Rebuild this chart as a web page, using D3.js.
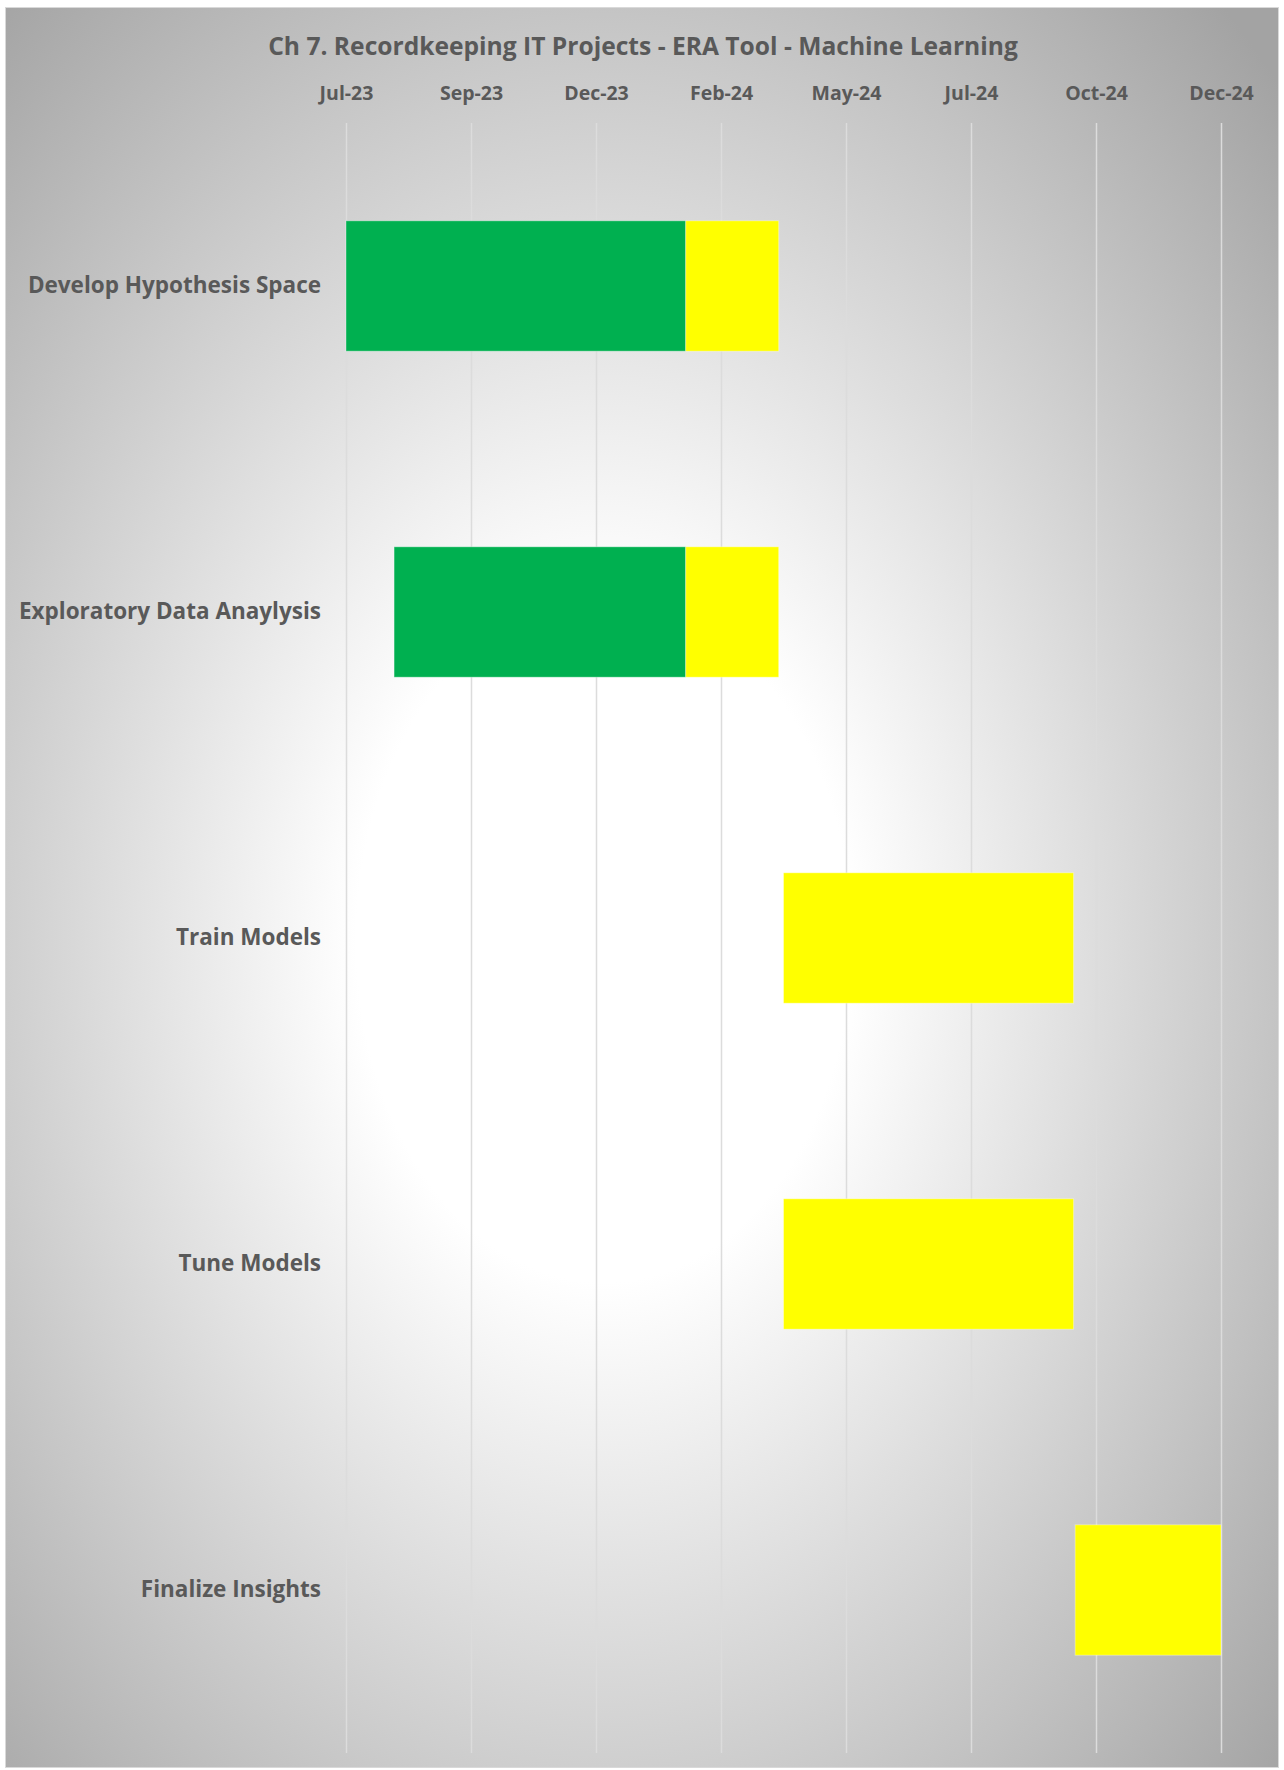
<!DOCTYPE html>
<html><head><meta charset="utf-8">
<script src="https://cdn.jsdelivr.net/npm/d3@7"></script>
<style>
html,body{margin:0;padding:0;background:#fff;}
svg{display:block;}
text{font-family:"Open Sans","Noto Sans",sans-serif;font-weight:700;fill:#595959;}
</style></head>
<body>
<svg id="chart" width="1284" height="1770"></svg>
<script>
const title = "Ch 7. Recordkeeping IT Projects - ERA Tool - Machine Learning";
const categories = ["Develop Hypothesis Space","Exploratory Data Anaylysis","Train Models","Tune Models","Finalize Insights"];
const startDates = ["2023-07-01","2023-07-31","2024-03-30","2024-03-30","2024-09-28"];
const completeDates = ["2024-01-29","2024-01-29","2024-03-30","2024-03-30","2024-09-28"];
const endDates = ["2024-03-27","2024-03-27","2024-09-27","2024-09-27","2024-12-28"];
const tickDates = ["2023-07-01","2023-09-17","2023-12-04","2024-02-20","2024-05-08","2024-07-25","2024-10-11","2024-12-28"];
const tickLabels = ["Jul-23","Sep-23","Dec-23","Feb-24","May-24","Jul-24","Oct-24","Dec-24"];
const colors = {complete:"#00b050", remaining:"#ffff00"};

const parse = d3.utcParse("%Y-%m-%d");
const data = categories.map((c,i)=>({task:c, start:parse(startDates[i]), done:parse(completeDates[i]), end:parse(endDates[i])}));
const ticks = tickDates.map(parse);

const svg = d3.select("#chart");
const defs = svg.append("defs");
const grad = defs.append("radialGradient").attr("id","bg")
  .attr("cx",0.47).attr("cy",0.53).attr("r",0.72).attr("fx",0.47).attr("fy",0.53);
grad.append("stop").attr("offset","0").attr("stop-color","#ffffff");
grad.append("stop").attr("offset","0.27").attr("stop-color","#ffffff");
grad.append("stop").attr("offset","1").attr("stop-color","#a3a3a3");

svg.append("rect").attr("x",5.5).attr("y",7.5).attr("width",1273).attr("height",1760)
  .attr("fill","url(#bg)").attr("stroke","#d9d9d9").attr("stroke-width",1);

const plot = {left:346, right:1221, top:123, bottom:1753};
const x = d3.scaleUtc().domain([ticks[0], ticks[ticks.length-1]]).range([plot.left, plot.right]);
const y = d3.scaleBand().domain(categories).range([plot.top, plot.bottom]).paddingInner(0.6).paddingOuter(0.3);

// gridlines
const grid = svg.append("g").attr("transform",`translate(0,${plot.bottom})`)
  .call(d3.axisTop(x).tickValues(ticks).tickSize(plot.bottom-plot.top).tickFormat(""));
grid.select(".domain").remove();
grid.selectAll("line").attr("stroke","#dcdcdc").attr("stroke-width",1.5);

// top axis labels
const xa = svg.append("g").attr("transform",`translate(0,${plot.top})`)
  .call(d3.axisTop(x).tickValues(ticks).tickSize(0).tickPadding(23).tickFormat((d,i)=>tickLabels[i]));
xa.select(".domain").remove();
xa.selectAll("text").attr("font-size",19.5).attr("fill","#595959")
  .style("font-family",'"Open Sans","Noto Sans",sans-serif').style("font-weight",700);

// bars
const bars = svg.append("g");
bars.selectAll("rect.c").data(data.filter(d=>d.done>d.start)).join("rect").attr("class","c")
  .attr("x",d=>x(d.start)).attr("width",d=>x(d.done)-x(d.start))
  .attr("y",d=>y(d.task)).attr("height",y.bandwidth()).attr("fill",colors.complete)
  .attr("stroke","rgba(255,255,255,0.35)").attr("stroke-width",1);
bars.selectAll("rect.r").data(data).join("rect").attr("class","r")
  .attr("x",d=>x(d.done)).attr("width",d=>x(d.end)-x(d.done))
  .attr("y",d=>y(d.task)).attr("height",y.bandwidth()).attr("fill",colors.remaining)
  .attr("stroke","rgba(255,255,255,0.35)").attr("stroke-width",1);

// category axis
const ya = svg.append("g").attr("transform",`translate(${plot.left},0)`)
  .call(d3.axisLeft(y).tickSize(0).tickPadding(25));
ya.select(".domain").remove();
ya.selectAll("text").attr("font-size",22.5).attr("fill","#595959")
  .style("font-family",'"Open Sans","Noto Sans",sans-serif').style("font-weight",700);

// title
svg.append("text").attr("x",643).attr("y",55).attr("text-anchor","middle")
  .attr("font-size",24.6).text(title);
</script>
</body></html>
